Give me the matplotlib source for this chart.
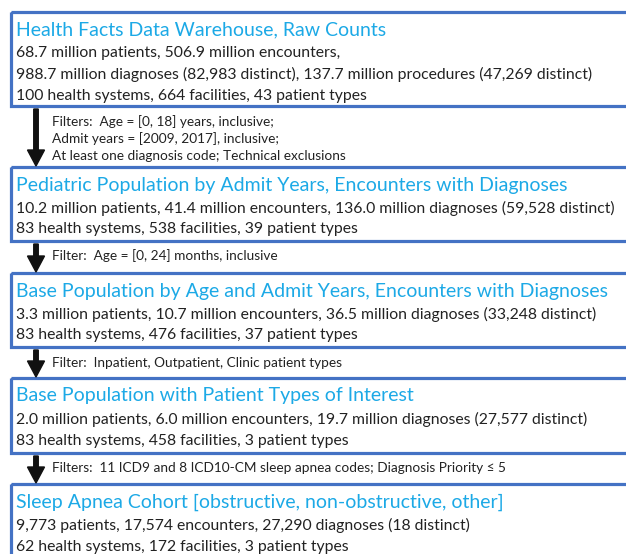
import matplotlib.pyplot as plt
from matplotlib.patches import Rectangle

# box contents
titles = [
    "Health Facts Data Warehouse, Raw Counts",
    "Pediatric Population by Admit Years, Encounters with Diagnoses",
    "Base Population by Age and Admit Years, Encounters with Diagnoses",
    "Base Population with Patient Types of Interest",
    "Sleep Apnea Cohort [obstructive, non-obstructive, other]",
]
details = [
    ["68.7 million patients, 506.9 million encounters,",
     "988.7 million diagnoses (82,983 distinct), 137.7 million procedures (47,269 distinct)",
     "100 health systems, 664 facilities, 43 patient types"],
    ["10.2 million patients, 41.4 million encounters, 136.0 million diagnoses (59,528 distinct)",
     "83 health systems, 538 facilities, 39 patient types"],
    ["3.3 million patients, 10.7 million encounters, 36.5 million diagnoses (33,248 distinct)",
     "83 health systems, 476 facilities, 37 patient types"],
    ["2.0 million patients, 6.0 million encounters, 19.7 million diagnoses (27,577 distinct)",
     "83 health systems, 458 facilities, 3 patient types"],
    ["9,773 patients, 17,574 encounters, 27,290 diagnoses (18 distinct)",
     "62 health systems, 172 facilities, 3 patient types"],
]
filters = [
    ["Filters:  Age = [0, 18] years, inclusive;",
     "Admit years = [2009, 2017], inclusive;",
     "At least one diagnosis code; Technical exclusions"],
    ["Filter:  Age = [0, 24] months, inclusive"],
    ["Filter:  Inpatient, Outpatient, Clinic patient types"],
    ["Filters:  11 ICD9 and 8 ICD10-CM sleep apnea codes; Diagnosis Priority \u2264 5"],
]

# layout (pixels)
box_top = [12, 167, 273, 378, 484]
box_bot = [106, 241, 347, 453, 570]
filt_y = [[122, 139, 156], [256], [363], [468]]

plt.rcParams['font.family'] = ['Lato', 'DejaVu Sans']
fig = plt.figure(figsize=(6.26, 5.54), dpi=100)
ax = fig.add_axes([0, 0, 1, 1])
ax.set_xlim(0, 626)
ax.set_ylim(554, 0)
ax.axis('off')

for i, t in enumerate(titles):
    top, bot = box_top[i], box_bot[i]
    ax.add_patch(Rectangle((11, top), 680, bot - top, fill=False,
                           edgecolor='#4472C4', linewidth=2.3))
    ax.text(16, top + 18, t, fontsize=14.0, color='#1CA9E6', va='center')
    for j, line in enumerate(details[i]):
        ax.text(16, top + 41 + 21.5 * j, line, fontsize=11.3, color='#222222',
                va='center')

for i, fl in enumerate(filters):
    y0 = box_bot[i] + 3
    y1 = box_top[i + 1] - 1
    ax.arrow(36, y0, 0, y1 - y0, width=4.5, head_width=17, head_length=16,
             length_includes_head=True, color='#111111')
    for j, line in enumerate(fl):
        ax.text(52, filt_y[i][j], line, fontsize=9.8, color='#222222', va='center')

fig.savefig('out.png', dpi=100)
